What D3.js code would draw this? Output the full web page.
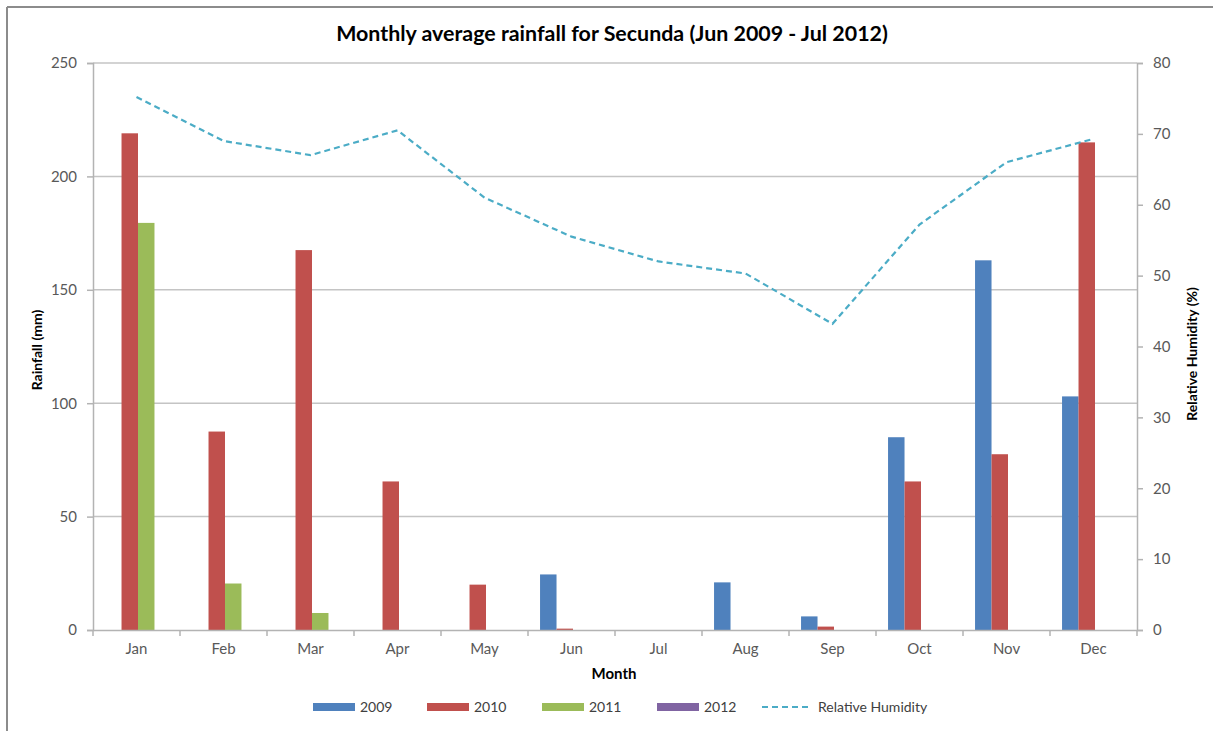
<!DOCTYPE html>
<html>
<head>
<meta charset="utf-8">
<script src="https://cdn.jsdelivr.net/npm/d3@7"></script>
<style>
  body { margin: 0; background: #fff; }
  svg text { font-family: Lato, "Open Sans", sans-serif; }
</style>
</head>
<body>
<svg></svg>
<script>
// Rainfall (mm) per month and year, humidity on the right axis
const months = ["Jan", "Feb", "Mar", "Apr", "May", "Jun", "Jul", "Aug", "Sep", "Oct", "Nov", "Dec"];
const years = ["2009", "2010", "2011", "2012"];
const rain2009 = [0, 0, 0, 0, 0, 24.5, 0, 21, 6, 85, 163, 103];
const rain2010 = [219, 87.5, 167.5, 65.5, 20, 0.6, 0, 0, 1.5, 65.5, 77.5, 215];
const rain2011 = [179.5, 20.5, 7.5, 0, 0, 0, 0, 0, 0, 0, 0, 0];
const rain2012 = [0, 0, 0, 0, 0, 0, 0, 0, 0, 0, 0, 0];
const humidity = [75.2, 69, 67, 70.5, 61, 55.5, 52, 50.3, 43.2, 57.2, 66, 69.3];
const rainTicks = [0, 50, 100, 150, 200, 250];
const humTicks = [0, 10, 20, 30, 40, 50, 60, 70, 80];

const colors = { "2009": "#4f81bd", "2010": "#c0504d", "2011": "#9bbb59", "2012": "#8064a2" };
const lineColor = "#4bacc6";
const series = [rain2009, rain2010, rain2011, rain2012];

const w = 1213;
const h = 731;
const margin = { left: 93, right: 76, top: 63, bottom: 101 };

const svg = d3.select("svg")
  .attr("width", w)
  .attr("height", h);

// outer frame (top and left edges only are visible)
svg.append("line").attr("x1", 7).attr("x2", w).attr("y1", 7).attr("y2", 7)
  .attr("stroke", "#8c8c8c").attr("stroke-width", 2);
svg.append("line").attr("x1", 7).attr("x2", 7).attr("y1", 7).attr("y2", h)
  .attr("stroke", "#8c8c8c").attr("stroke-width", 2);

const x0 = d3.scaleBand()
  .domain(months)
  .range([margin.left, w - margin.right])
  .paddingInner(0)
  .paddingOuter(0);

// shifted slightly right like the original's grouping
const x1 = d3.scaleBand()
  .domain(years)
  .range([1.5, x0.bandwidth() + 1.5])
  .paddingOuter(0.64);

const yRain = d3.scaleLinear()
  .domain([0, 250])
  .range([h - margin.bottom, margin.top]);

const yHum = d3.scaleLinear()
  .domain([0, 80])
  .range([h - margin.bottom, margin.top]);

// gridlines
svg.append("g")
  .selectAll("line")
  .data(rainTicks.filter(d => d > 0))
  .join("line")
  .attr("x1", margin.left)
  .attr("x2", w - margin.right)
  .attr("y1", d => yRain(d))
  .attr("y2", d => yRain(d))
  .attr("stroke", "#c4c4c4")
  .attr("stroke-width", 1.5);

// bars
months.forEach((m, i) => {
  years.forEach((yr, j) => {
    const v = series[j][i];
    if (v <= 0) return;
    svg.append("rect")
      .attr("x", x0(m) + x1(yr))
      .attr("y", yRain(v))
      .attr("width", x1.bandwidth())
      .attr("height", yRain(0) - yRain(v))
      .attr("fill", colors[yr]);
  });
});

// axes
const axisColor = "#b3b3b3";
const tickColor = "#595959";

const yLeft = svg.append("g")
  .attr("transform", "translate(" + margin.left + ",0)")
  .call(d3.axisLeft(yRain).tickValues(rainTicks).tickSize(6).tickPadding(10));

const yRight = svg.append("g")
  .attr("transform", "translate(" + (w - margin.right) + ",0)")
  .call(d3.axisRight(yHum).tickValues(humTicks).tickSize(6).tickPadding(10));

const xAxis = svg.append("g")
  .attr("transform", "translate(0," + (h - margin.bottom) + ")")
  .call(d3.axisBottom(x0).tickSize(0).tickPadding(13));

// tick marks between categories on the x axis
svg.append("g")
  .selectAll("line")
  .data(d3.range(months.length + 1))
  .join("line")
  .attr("x1", i => margin.left + i * x0.step())
  .attr("x2", i => margin.left + i * x0.step())
  .attr("y1", h - margin.bottom)
  .attr("y2", h - margin.bottom + 6)
  .attr("stroke", axisColor)
  .attr("stroke-width", 1.5);

[yLeft, yRight, xAxis].forEach(g => {
  g.select(".domain").attr("stroke", axisColor).attr("stroke-width", 1.5);
  g.selectAll(".tick line").attr("stroke", axisColor).attr("stroke-width", 1.5);
  g.selectAll(".tick text")
    .attr("fill", tickColor)
    .style("font-size", "15px")
    .style("font-family", "Lato, sans-serif");
});

// humidity line
const line = d3.line()
  .x((d, i) => x0(months[i]) + x0.bandwidth() / 2)
  .y(d => yHum(d));

svg.append("path")
  .datum(humidity)
  .attr("d", line)
  .attr("fill", "none")
  .attr("stroke", lineColor)
  .attr("stroke-width", 2.2)
  .attr("stroke-dasharray", "6,4");

// titles
svg.append("text")
  .attr("x", 612)
  .attr("y", 41)
  .attr("text-anchor", "middle")
  .style("font-size", "21.4px")
  .style("font-weight", "bold")
  .attr("fill", "#000")
  .text("Monthly average rainfall for Secunda (Jun 2009 - Jul 2012)");

svg.append("text")
  .attr("transform", "translate(42,350) rotate(-90)")
  .attr("text-anchor", "middle")
  .style("font-size", "14px")
  .style("font-weight", "bold")
  .text("Rainfall (mm)");

svg.append("text")
  .attr("transform", "translate(1197,354) rotate(-90)")
  .attr("text-anchor", "middle")
  .style("font-size", "14px")
  .style("font-weight", "bold")
  .text("Relative Humidity (%)");

svg.append("text")
  .attr("x", 614)
  .attr("y", 679)
  .attr("text-anchor", "middle")
  .style("font-size", "15px")
  .style("font-weight", "bold")
  .text("Month");

// legend
const legendItems = years.map(y => ({ label: y, color: colors[y], type: "bar" }))
  .concat([{ label: "Relative Humidity", color: lineColor, type: "line" }]);
const legendX = [313, 427, 542, 657, 762];

const legend = svg.append("g")
  .selectAll("g")
  .data(legendItems)
  .join("g")
  .attr("transform", (d, i) => "translate(" + legendX[i] + ",707)");

legend.filter(d => d.type === "bar")
  .append("rect")
  .attr("x", 0)
  .attr("y", -4)
  .attr("width", 42)
  .attr("height", 8)
  .attr("fill", d => d.color);

legend.filter(d => d.type === "line")
  .append("line")
  .attr("x1", 0)
  .attr("x2", 50)
  .attr("y1", 0)
  .attr("y2", 0)
  .attr("stroke", d => d.color)
  .attr("stroke-width", 2)
  .attr("stroke-dasharray", "6,4");

legend.append("text")
  .attr("x", d => d.type === "bar" ? 47 : 56)
  .attr("y", 5)
  .attr("fill", "#404040")
  .style("font-size", "14px")
  .text(d => d.label);
</script>
</body>
</html>
